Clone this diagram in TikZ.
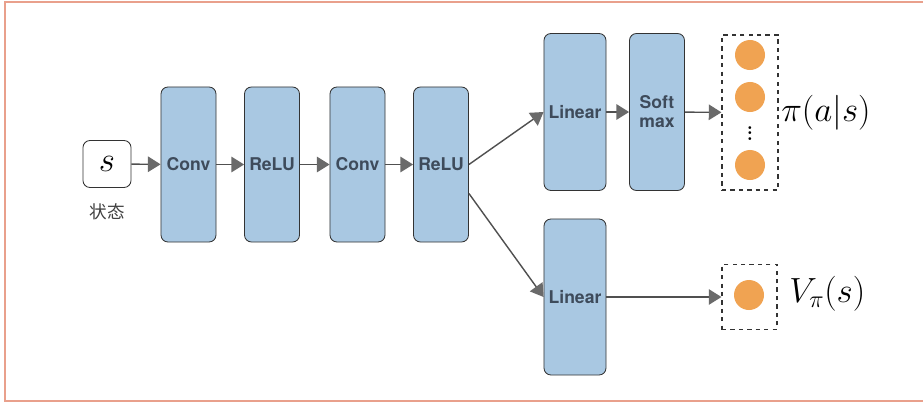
\documentclass[tikz,border=0pt]{standalone}
\usepackage{amssymb,amsmath}
\usepackage{fontspec}
\setsansfont{TeX Gyre Heros}
\newfontfamily\cjk{Noto Sans CJK SC}
\usepackage{tikz}
\usetikzlibrary{arrows.meta,calc}
\definecolor{layerblue}{HTML}{A9C8E2}
\definecolor{layertext}{HTML}{3E4B5B}
\definecolor{outorange}{HTML}{F0A352}
\definecolor{framered}{HTML}{E9A08C}
\definecolor{arrowgray}{HTML}{505050}
\definecolor{tipgray}{HTML}{6A6A6A}

\begin{document}
\begin{tikzpicture}[
            x = 0.025cm, y = -0.025cm, % pixel grid
            > = {Triangle[length=9pt,width=11pt,color=tipgray]}, % arrow head style
            layer/.style = {shape=rectangle, rounded corners=5pt, draw=black!80,
                fill=layerblue, line width=0.6pt, text=layertext,
                font=\sffamily\bfseries\fontsize{12.5}{13.5}\selectfont,
                align=center, inner sep=0pt, minimum width=1.375cm, minimum height=3.875cm},
            outbox/.style = {shape=rectangle, draw=black!80, dashed,
                dash pattern=on 3pt off 3pt, line width=0.8pt, inner sep=0pt},
            unit/.style = {shape=circle, fill=outorange, minimum size=0.75cm, inner sep=0pt},
            bigmath/.style = {font=\fontsize{24}{28}\selectfont},
            flow/.style = {->, draw=arrowgray, line width=1pt}
        ]
\useasboundingbox (0,0) rectangle (923,408);
\fill[white] (0,0) rectangle (923,408);
\draw[framered, line width=1.2pt] (930,2) -- (5,2) -- (5,401) -- (930,401);

\node[shape=rectangle, rounded corners=5pt, draw=black!80, line width=0.6pt,
      minimum width=1.2cm, minimum height=1.175cm, inner sep=0pt, bigmath] (s) at (107,164) {$s$};
\node[font=\cjk\fontsize{12.5}{14}\selectfont, text=black!75] (state) at (107,212) {状态};

\node[layer] (conv1) at (188.5,164.5) {Conv};
\node[layer] (relu1) at (272,164.5) {ReLU};
\node[layer] (conv2) at (357.5,164.5) {Conv};
\node[layer] (relu2) at (441,164.5) {ReLU};
\node[layer, minimum width=1.55cm, minimum height=3.925cm] (lin1) at (575,112) {Linear};
\node[layer, minimum height=3.925cm] (soft) at (657,112) {Soft\\max};
\node[layer, minimum width=1.55cm, minimum height=3.9cm] (lin2) at (575,297) {Linear};

% policy head output
\node[outbox, minimum width=1.4cm, minimum height=3.875cm] (pibox) at (750,112.5) {};
\node[unit] (p1) at (750,55) {};
\node[unit] (p2) at (750,97) {};
\node[font=\bfseries\fontsize{14}{16}\selectfont, inner sep=0pt] (pdots) at (750,129) {$\vdots$};
\node[unit] (p3) at (750,165) {};
\node[anchor=west, inner sep=0pt, bigmath] (pi) at (781,113) {$\pi(a|s)$};

% value head output
\node[outbox, minimum width=1.375cm, minimum height=1.625cm] (vbox) at (749.5,297) {};
\node[unit] (v1) at (749,295) {};
\node[anchor=west, inner sep=0pt, bigmath] (val) at (789,294) {$V_\pi(s)$};

\coordinate (split) at ($(relu2.east)+(0,29)$);

\path [flow] (s) edge (conv1);
\path [flow] (conv1) edge (relu1);
\path [flow] (relu1) edge (conv2);
\path [flow] (conv2) edge (relu2);
\draw [flow] (relu2.east) -- (lin1.west);
\draw [flow] (split) -- (lin2.west);
\path [flow] (lin1) edge (soft);
\path [flow] (soft) edge (pibox);
\path [flow] (lin2) edge (vbox);

\end{tikzpicture}
\end{document}
